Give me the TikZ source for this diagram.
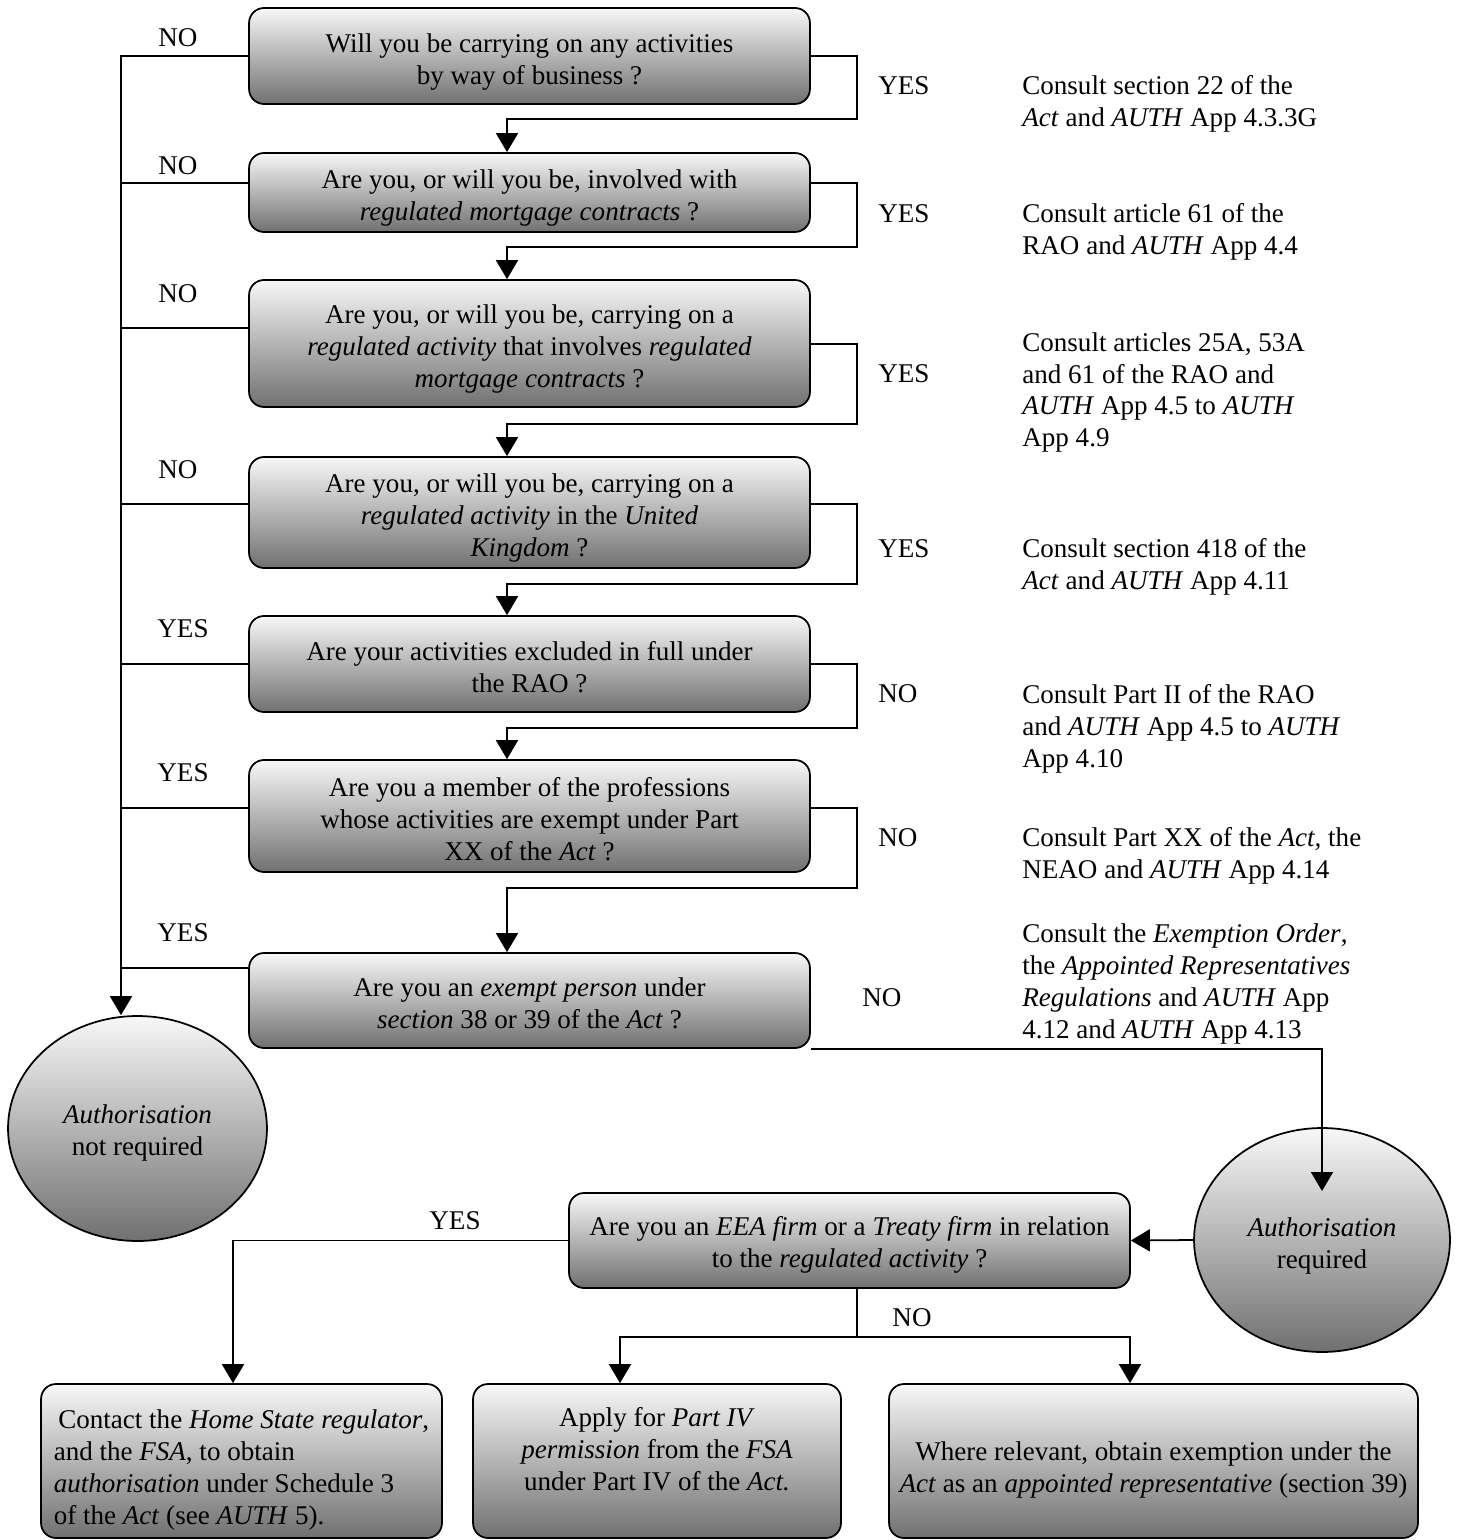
\documentclass[tikz,border=0pt]{standalone}
\usepackage{fontspec}
\setmainfont{Liberation Serif}
\usetikzlibrary{shapes.geometric,arrows.meta,calc}
\definecolor{shadetop}{gray}{0.97}
\definecolor{shadebot}{gray}{0.44}
% lines of a box text, pushed down by half of #2
\newcommand{\qlines}[3][c]{\raisebox{0pt}[\dimexpr\height+#2\relax][\depth]{\begin{tabular}{@{}#1@{}}#3\end{tabular}}}

\begin{document}
\begin{tikzpicture}[x=0.02cm,y=-0.02cm,
  every node/.style={font=\fontsize{15.4}{18.2}\selectfont},
  qbox/.style={draw,line width=1pt,rounded corners=0.3cm,top color=shadetop,bottom color=shadebot,minimum width=11.22cm,inner sep=0pt},
  endblob/.style={draw,line width=1pt,ellipse,top color=shadetop,bottom color=shadebot,inner sep=0pt},
  note/.style={anchor=west,inner sep=0pt,align=left},
  link/.style={line width=1pt},
  flow/.style={line width=1pt,-{Triangle[length=0.38cm,width=0.44cm]}}]

\useasboundingbox (0,0) rectangle (1457,1540);

\coordinate (trunk) at (121,0);
\coordinate (loopx) at (857,0);
\coordinate (drop) at (507,0);
\coordinate (yesx) at (233,0);
\coordinate (split) at (857,1337);

\node [qbox,minimum height=1.92cm] (b1) at (529.5,56) {\qlines{0.24cm}{Will you be carrying on any activities\\by way of business ?}};
\node [qbox,minimum height=1.58cm] (b2) at (529.5,192.5) {\qlines{0.24cm}{Are you, or will you be, involved with\\\textit{regulated mortgage contracts} ?}};
\node [qbox,minimum height=2.54cm] (b3) at (529.5,343.5) {\qlines{0.24cm}{Are you, or will you be, carrying on a\\\textit{regulated activity} that involves \textit{regulated}\\\textit{mortgage contracts} ?}};
\node [qbox,minimum height=2.22cm] (b4) at (529.5,512.5) {\qlines{0.24cm}{Are you, or will you be, carrying on a\\\textit{regulated activity} in the \textit{United}\\\textit{Kingdom} ?}};
\node [qbox,minimum height=1.92cm] (b5) at (529.5,664) {\qlines{0.24cm}{Are your activities excluded in full under\\the RAO ?}};
\node [qbox,minimum height=2.24cm] (b6) at (529.5,816) {\qlines{0.24cm}{Are you a member of the professions\\whose activities are exempt under Part\\XX of the \textit{Act} ?}};
\node [qbox,minimum height=1.9cm] (b7) at (529.5,1000.5) {\qlines{0.24cm}{Are you an \textit{exempt person} under\\\textit{section} 38 or 39 of the \textit{Act} ?}};
\node [qbox,minimum height=1.9cm] (eea) at (849.5,1240.5) {\qlines{0.2cm}{Are you an \textit{EEA firm} or a \textit{Treaty firm} in relation\\to the \textit{regulated activity} ?}};

\node [qbox,minimum width=8.02cm,minimum height=3.08cm] (home) at (241.5,1461) {\qlines[l]{0.38cm}{\,Contact the \textit{Home State regulator},\\and the \textit{FSA}, to obtain\\\textit{authorisation} under Schedule 3\\of the \textit{Act} (see \textit{AUTH} 5).}};
\node [qbox,minimum width=7.36cm,minimum height=3.08cm] (apply) at (657,1461) {\qlines{-0.36cm}{Apply for \textit{Part IV}\\\textit{permission} from the \textit{FSA}\\under Part IV of the \textit{Act.}}};
\node [qbox,minimum width=10.58cm,minimum height=3.08cm] (exempt) at (1153.5,1461) {\qlines{0.38cm}{Where relevant, obtain exemption under the\\\textit{Act} as an \textit{appointed representative} (section 39)}};

\node [endblob,minimum width=5.18cm,minimum height=4.5cm] (notreq) at (137.5,1128.5) {\qlines{0.2cm}{\textit{Authorisation}\\not required}};
\node [endblob,minimum width=5.12cm,minimum height=4.48cm] (req) at (1322,1240) {\qlines{0.26cm}{\textit{Authorisation}\\required}};

\node [note] (n1) at (1022,104) {Consult section 22 of the\\\textit{Act} and \textit{AUTH} App 4.3.3G};
\node [note] (n2) at (1022,232) {Consult article 61 of the\\RAO and \textit{AUTH} App 4.4};
\node [note] (n3) at (1022,392.5) {Consult articles 25A, 53A\\and 61 of the RAO and\\\textit{AUTH} App 4.5 to \textit{AUTH}\\App 4.9};
\node [note] (n4) at (1022,567) {Consult section 418 of the\\\textit{Act} and \textit{AUTH} App 4.11};
\node [note] (n5) at (1022,728.5) {Consult Part II of the RAO\\and \textit{AUTH} App 4.5 to \textit{AUTH}\\App 4.10};
\node [note] (n6) at (1022,856) {Consult Part XX of the \textit{Act,} the\\NEAO and \textit{AUTH} App 4.14};
\node [note] (n7) at (1022,984) {Consult the \textit{Exemption Order},\\the \textit{Appointed Representatives}\\\textit{Regulations} and \textit{AUTH} App\\4.12 and \textit{AUTH} App 4.13};

\node (l1) at (178,38) {NO};
\node (l2) at (178,166) {NO};
\node (l3) at (178,294) {NO};
\node (l4) at (178,470) {NO};
\node (l5) at (183,629) {YES};
\node (l6) at (183,773) {YES};
\node (l7) at (183,933) {YES};
\node [note] (r1) at (878,86) {YES};
\node [note] (r2) at (878,214) {YES};
\node [note] (r3) at (878,374) {YES};
\node [note] (r4) at (878,549) {YES};
\node [note] (r5) at (878,694) {NO};
\node [note] (r6) at (878,838) {NO};
\node [note] (r7) at (862,998) {NO};
\node (yes8) at (455,1221) {YES};
\node (no8) at (912,1318) {NO};

\draw [flow] (b1.west) -| (notreq.north -| trunk);
\foreach \a/\dy in {b2/-9.5,b3/-15.5,b4/-8.5,b5/0,b6/-8,b7/-32.5}
  \draw [link] ($(\a.west)+(0,\dy)$) -- ++(-128,0);

\foreach \a/\b/\dy/\yy in {b1/b2/0/119,b2/b3/-9.5/247,b3/b4/0.5/424,b4/b5/-8.5/584,b5/b6/0/728,b6/b7/-8/888}
  \draw [flow] ($(\a.east)+(0,\dy)$) -| (loopx |- 0,\yy) -| (\b.north -| drop);

\draw [flow] (b7.south east) -| ($(req.center)+(0,-49)$);
\draw [flow] (req.west) -- (eea.east);
\draw [flow] (eea.west) -| (home.north -| yesx);
\draw [link] (eea.south -| split) -- (split);
\draw [flow] (split) -| ($(apply.north)+(-37,0)$);
\draw [flow] (split) -| ($(exempt.north)+(-23.5,0)$);
\end{tikzpicture}
\end{document}
